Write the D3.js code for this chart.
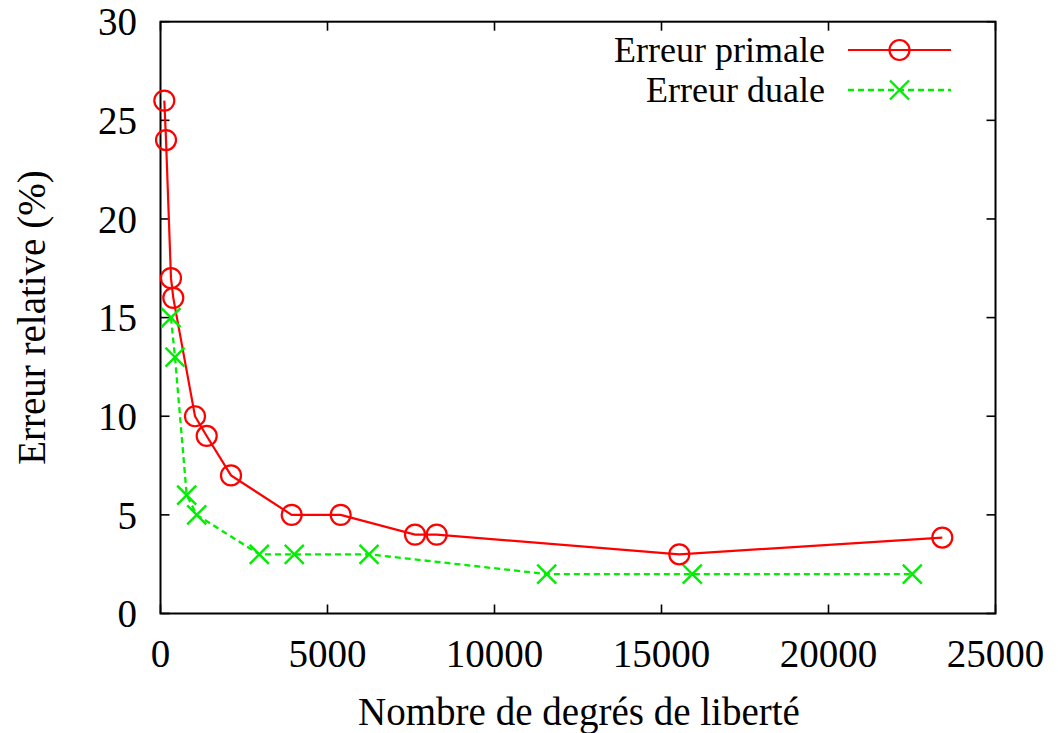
<!DOCTYPE html>
<html>
<head>
<meta charset="utf-8">
<script src="https://cdn.jsdelivr.net/npm/d3@7"></script>
<style>
  html, body { margin: 0; padding: 0; background: #fff; }
  svg text { font-family: "Liberation Serif", "Times New Roman", serif; fill: #000; }
</style>
</head>
<body>
<svg id="chart" width="1058" height="733"></svg>
<script>
// ---- data ----
const primalX = [114, 165, 314, 383, 1033, 1383, 2111, 3928, 5395, 7620, 8269, 15533, 23407];
const primalY = [26, 24, 17, 16, 10, 9, 7, 5, 5, 4, 4, 3, 3.85];
const dualX = [314, 434, 784, 1084, 2958, 4006, 6243, 11563, 15922, 22509];
const dualY = [15, 13, 6, 5, 3, 3, 3, 2, 2, 2];
const xTicks = [0, 5000, 10000, 15000, 20000, 25000];
const yTicks = [0, 5, 10, 15, 20, 25, 30];
const seriesNames = ["Erreur primale", "Erreur duale"];
const xTitle = "Nombre de degrés de liberté";
const yTitle = "Erreur relative (%)";

// ---- layout ----
const W = 1058, H = 733;
const L = 160.5, R = 995.5, T = 21.7, B = 613.5;
const svg = d3.select("#chart");
const x = d3.scaleLinear().domain([0, 25000]).range([L, R]);
const y = d3.scaleLinear().domain([0, 30]).range([B, T]);
const tickLen = 9;
const fs = 39;
const legFs = 36;

// tick marks (inward, mirrored)
const axisG = svg.append("g");
const tickStyle = sel => sel.attr("stroke", "#000").attr("stroke-width", 1.6);
xTicks.forEach(v => {
  axisG.append("line").attr("x1", x(v)).attr("x2", x(v)).attr("y1", B).attr("y2", B - tickLen).call(tickStyle);
  axisG.append("line").attr("x1", x(v)).attr("x2", x(v)).attr("y1", T).attr("y2", T + tickLen).call(tickStyle);
  axisG.append("text").attr("x", x(v)).attr("y", 667).attr("text-anchor", "middle")
    .attr("font-size", fs).text(v);
});
yTicks.forEach(v => {
  axisG.append("line").attr("x1", L).attr("x2", L + tickLen).attr("y1", y(v)).attr("y2", y(v)).call(tickStyle);
  axisG.append("line").attr("x1", R).attr("x2", R - tickLen).attr("y1", y(v)).attr("y2", y(v)).call(tickStyle);
  axisG.append("text").attr("x", 137).attr("y", y(v)).attr("dy", "0.35em").attr("text-anchor", "end")
    .attr("font-size", fs).text(v);
});

// frame
svg.append("rect").attr("x", L).attr("y", T).attr("width", R - L).attr("height", B - T)
  .attr("fill", "none").attr("stroke", "#000").attr("stroke-width", 2);

// titles
svg.append("text").attr("x", 579).attr("y", 725).attr("text-anchor", "middle")
  .attr("font-size", fs).text(xTitle);
svg.append("text").attr("transform", `translate(45,${(T + B) / 2}) rotate(-90)`)
  .attr("text-anchor", "middle").attr("font-size", fs).text(yTitle);

// series
const red = "#ff0000", green = "#00ee00";
const primal = primalX.map((v, i) => [v, primalY[i]]);
const dual = dualX.map((v, i) => [v, dualY[i]]);
const line = d3.line().x(d => x(d[0])).y(d => y(d[1]));

svg.append("path").datum(dual).attr("d", line).attr("fill", "none")
  .attr("stroke", green).attr("stroke-width", 2.3).attr("stroke-dasharray", "6,4");
svg.append("path").datum(primal).attr("d", line).attr("fill", "none")
  .attr("stroke", red).attr("stroke-width", 2.2);

const crossSize = 9.5;
function cross(g, cx, cy) {
  g.append("path").attr("d", `M${cx - crossSize},${cy - crossSize}L${cx + crossSize},${cy + crossSize}M${cx - crossSize},${cy + crossSize}L${cx + crossSize},${cy - crossSize}`)
    .attr("stroke", green).attr("stroke-width", 2.4).attr("fill", "none");
}
function circ(g, cx, cy) {
  g.append("circle").attr("cx", cx).attr("cy", cy).attr("r", 10)
    .attr("stroke", red).attr("stroke-width", 2.2).attr("fill", "none");
}
const mk = svg.append("g");
dual.forEach(d => cross(mk, x(d[0]), y(d[1])));
primal.forEach(d => circ(mk, x(d[0]), y(d[1])));

// legend
const lg = svg.append("g");
const legY = [50, 90];
lg.append("text").attr("x", 825).attr("y", legY[0]).attr("dy", "0.33em").attr("text-anchor", "end")
  .attr("font-size", legFs).text(seriesNames[0]);
lg.append("line").attr("x1", 848).attr("x2", 951).attr("y1", legY[0]).attr("y2", legY[0])
  .attr("stroke", red).attr("stroke-width", 2.2);
circ(lg, 899.5, legY[0]);
lg.append("text").attr("x", 825).attr("y", legY[1]).attr("dy", "0.33em").attr("text-anchor", "end")
  .attr("font-size", legFs).text(seriesNames[1]);
lg.append("line").attr("x1", 848).attr("x2", 951).attr("y1", legY[1]).attr("y2", legY[1])
  .attr("stroke", green).attr("stroke-width", 2.3).attr("stroke-dasharray", "6,4");
cross(lg, 899.5, legY[1]);
</script>
</body>
</html>
